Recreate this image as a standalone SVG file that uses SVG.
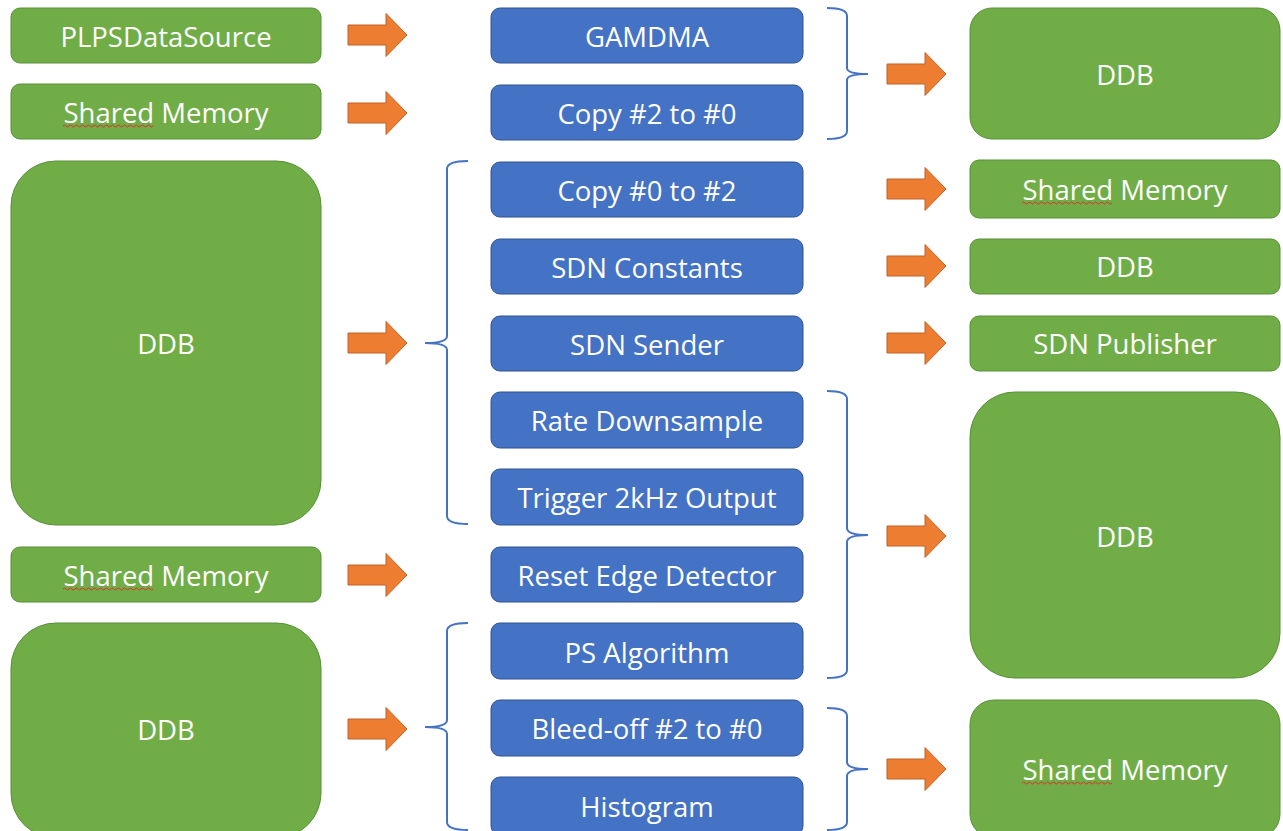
<svg xmlns="http://www.w3.org/2000/svg" xmlns:xlink="http://www.w3.org/1999/xlink" width="1283" height="831" viewBox="0 0 1283 831">
<style>
.g{fill:#70AD47;stroke:#5A8F38;stroke-width:1}
.b{fill:#4472C4;stroke:#2F528F;stroke-width:1}
.t{fill:#FFFFFF;font-family:"Open Sans","Liberation Sans",sans-serif;font-size:27.5px;text-anchor:middle;dominant-baseline:central}
.br{fill:none;stroke:#4472C4;stroke-width:2}
.sq{fill:none;stroke:#E03030;stroke-width:1}
</style>
<defs>
<path id="arr" d="M0,-10 H38 V-21.5 L59,0 L38,21.5 V10 H0 Z" fill="#ED7D31" stroke="#C0622A" stroke-width="1"/>
</defs>
<rect width="1283" height="831" fill="#FFFFFF"/>

<g id="left">
<g id="n-plps"><rect class="g" x="11" y="8" width="310" height="55" rx="9"/><text class="t" x="166" y="36">PLPSDataSource</text></g>
<g id="n-sm1"><rect class="g" x="11" y="84" width="310" height="55" rx="9"/><text class="t" x="166" y="112">Shared Memory</text><path class="sq" d="M63,126 q1.5,-2 3,0 t3,0 t3,0 t3,0 t3,0 t3,0 t3,0 t3,0 t3,0 t3,0 t3,0 t3,0 t3,0 t3,0 t3,0 t3,0 t3,0 t3,0 t3,0 t3,0 t3,0 t3,0 t3,0 t3,0 t3,0 t3,0 t3,0 t3,0 t3,0 t3,0"/></g>
<g id="n-ddb1"><rect class="g" x="11" y="161" width="310" height="364" rx="45"/><text class="t" x="166" y="343">DDB</text></g>
<g id="n-sm2"><rect class="g" x="11" y="547" width="310" height="55" rx="9"/><text class="t" x="166" y="575">Shared Memory</text><path class="sq" d="M63,589 q1.5,-2 3,0 t3,0 t3,0 t3,0 t3,0 t3,0 t3,0 t3,0 t3,0 t3,0 t3,0 t3,0 t3,0 t3,0 t3,0 t3,0 t3,0 t3,0 t3,0 t3,0 t3,0 t3,0 t3,0 t3,0 t3,0 t3,0 t3,0 t3,0 t3,0 t3,0"/></g>
<g id="n-ddb2"><rect class="g" x="11" y="623" width="310" height="215" rx="45"/><text class="t" x="166" y="729">DDB</text></g>
</g>

<g id="middle">
<g id="m-gamdma"><rect class="b" x="491" y="8" width="312" height="55" rx="9"/><text class="t" x="647" y="36">GAMDMA</text></g>
<g id="m-copy20"><rect class="b" x="491" y="85" width="312" height="55" rx="9"/><text class="t" x="647" y="113">Copy #2 to #0</text></g>
<g id="m-copy02"><rect class="b" x="491" y="162" width="312" height="55" rx="9"/><text class="t" x="647" y="190">Copy #0 to #2</text></g>
<g id="m-sdnc"><rect class="b" x="491" y="239" width="312" height="55" rx="9"/><text class="t" x="647" y="267">SDN Constants</text></g>
<g id="m-sdns"><rect class="b" x="491" y="316" width="312" height="55" rx="9"/><text class="t" x="647" y="344">SDN Sender</text></g>
<g id="m-rate"><rect class="b" x="491" y="392" width="312" height="56" rx="9"/><text class="t" x="647" y="420">Rate Downsample</text></g>
<g id="m-trig"><rect class="b" x="491" y="469" width="312" height="56" rx="9"/><text class="t" x="647" y="497">Trigger 2kHz Output</text></g>
<g id="m-reset"><rect class="b" x="491" y="547" width="312" height="55" rx="9"/><text class="t" x="647" y="575">Reset Edge Detector</text></g>
<g id="m-ps"><rect class="b" x="491" y="623" width="312" height="56" rx="9"/><text class="t" x="647" y="652">PS Algorithm</text></g>
<g id="m-bleed"><rect class="b" x="491" y="700" width="312" height="56" rx="9"/><text class="t" x="647" y="728">Bleed-off #2 to #0</text></g>
<g id="m-hist"><rect class="b" x="491" y="777" width="312" height="58" rx="9"/><text class="t" x="647" y="806">Histogram</text></g>
</g>

<g id="right">
<g id="r-ddb1"><rect class="g" x="970" y="8" width="310" height="131" rx="22"/><text class="t" x="1125" y="74">DDB</text></g>
<g id="r-sm1"><rect class="g" x="970" y="160" width="310" height="58" rx="9"/><text class="t" x="1125" y="189">Shared Memory</text><path class="sq" d="M1022,203 q1.5,-2 3,0 t3,0 t3,0 t3,0 t3,0 t3,0 t3,0 t3,0 t3,0 t3,0 t3,0 t3,0 t3,0 t3,0 t3,0 t3,0 t3,0 t3,0 t3,0 t3,0 t3,0 t3,0 t3,0 t3,0 t3,0 t3,0 t3,0 t3,0 t3,0 t3,0"/></g>
<g id="r-ddb2"><rect class="g" x="970" y="239" width="310" height="55" rx="9"/><text class="t" x="1125" y="266">DDB</text></g>
<g id="r-sdnp"><rect class="g" x="970" y="316" width="310" height="55" rx="9"/><text class="t" x="1125" y="343">SDN Publisher</text></g>
<g id="r-ddb3"><rect class="g" x="970" y="392" width="310" height="286" rx="45"/><text class="t" x="1125" y="536">DDB</text></g>
<g id="r-sm2"><rect class="g" x="970" y="700" width="310" height="138" rx="24"/><text class="t" x="1125" y="769">Shared Memory</text><path class="sq" d="M1022,783 q1.5,-2 3,0 t3,0 t3,0 t3,0 t3,0 t3,0 t3,0 t3,0 t3,0 t3,0 t3,0 t3,0 t3,0 t3,0 t3,0 t3,0 t3,0 t3,0 t3,0 t3,0 t3,0 t3,0 t3,0 t3,0 t3,0 t3,0 t3,0 t3,0 t3,0 t3,0"/></g>
</g>

<g id="connectors">
<use xlink:href="#arr" href="#arr" x="348" y="35"/>
<use xlink:href="#arr" href="#arr" x="348" y="113"/>
<use xlink:href="#arr" href="#arr" x="348" y="343"/>
<use xlink:href="#arr" href="#arr" x="348" y="575"/>
<use xlink:href="#arr" href="#arr" x="348" y="729"/>
<use xlink:href="#arr" href="#arr" x="887" y="74"/>
<use xlink:href="#arr" href="#arr" x="887" y="189"/>
<use xlink:href="#arr" href="#arr" x="887" y="266"/>
<use xlink:href="#arr" href="#arr" x="887" y="343"/>
<use xlink:href="#arr" href="#arr" x="887" y="536"/>
<use xlink:href="#arr" href="#arr" x="887" y="769"/>
<path class="br" d="M827,8 Q847,8 847,16 L847,68 Q847,74 868,74 Q847,74 847,80 L847,131 Q847,139 827,139"/>
<path class="br" d="M468,161 Q447,161 447,169 L447,336 Q447,343 425,343 Q447,343 447,350 L447,516 Q447,524 468,524"/>
<path class="br" d="M827,391 Q847,391 847,399 L847,528 Q847,535 868,535 Q847,535 847,542 L847,670 Q847,678 827,678"/>
<path class="br" d="M468,623 Q447,623 447,631 L447,720 Q447,727 425,727 Q447,727 447,734 L447,822 Q447,830 468,830"/>
<path class="br" d="M827,708 Q847,708 847,716 L847,762 Q847,769 868,769 Q847,769 847,776 L847,822 Q847,830 827,830"/>
</g>
</svg>
